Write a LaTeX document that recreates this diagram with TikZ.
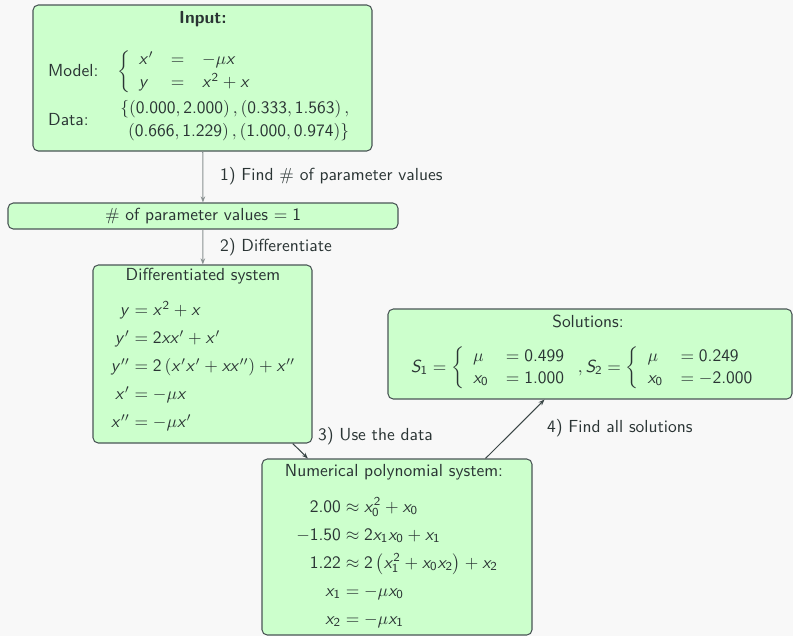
\documentclass[tikz,border=0pt]{standalone}
\usepackage{amsmath}
\renewcommand{\familydefault}{\sfdefault}
\DeclareSymbolFont{sfop}{OT1}{cmss}{m}{n}
\DeclareSymbolFont{sfit}{OT1}{cmss}{m}{sl}
\DeclareMathSymbol{x}{\mathalpha}{sfit}{`x}
\DeclareMathSymbol{y}{\mathalpha}{sfit}{`y}
\DeclareMathSymbol{S}{\mathalpha}{sfit}{`S}
\DeclareMathSymbol{0}{\mathalpha}{sfop}{`0}
\DeclareMathSymbol{1}{\mathalpha}{sfop}{`1}
\DeclareMathSymbol{2}{\mathalpha}{sfop}{`2}
\DeclareMathSymbol{3}{\mathalpha}{sfop}{`3}
\DeclareMathSymbol{4}{\mathalpha}{sfop}{`4}
\DeclareMathSymbol{5}{\mathalpha}{sfop}{`5}
\DeclareMathSymbol{6}{\mathalpha}{sfop}{`6}
\DeclareMathSymbol{7}{\mathalpha}{sfop}{`7}
\DeclareMathSymbol{8}{\mathalpha}{sfop}{`8}
\DeclareMathSymbol{9}{\mathalpha}{sfop}{`9}
\DeclareMathSymbol{.}{\mathord}{sfop}{`.}
\usetikzlibrary{arrows.meta,fit}
\definecolor{bgc}{HTML}{F8F8F8}
\definecolor{boxg}{HTML}{CCFFCC}
\definecolor{bord}{HTML}{4A5656}
\definecolor{txt}{HTML}{2A3434}
\definecolor{garr}{HTML}{8A9292}
\definecolor{darr}{HTML}{3A4646}
\begin{document}
\begin{tikzpicture}[x=0.573pt,y=-0.573pt,
  font=\fontsize{10}{12}\selectfont\sffamily, text=txt,
  box/.style={draw=bord, fill=boxg, rounded corners=3pt, line width=0.6pt, inner sep=0pt},
  tipstyle/.style={-{Stealth[length=3.5pt,width=2.6pt]}},
  garrow/.style={draw=garr, line width=0.6pt, tipstyle},
  darrow/.style={draw=darr, line width=0.6pt, tipstyle}]
\fill[bgc] (0,0) rectangle (793,636);
\useasboundingbox (0,0) rectangle (793,636);
% boxes
\node[box, fit={(33,5) (372,151)}] (input) {};
\node[box, fit={(8,203) (398,229)}] (param) {};
\node[box, fit={(93,265) (312,443)}] (diff) {};
\node[box, fit={(388,309) (792,399)}] (sol) {};
\node[box, fit={(262,459) (532,635)}] (num) {};
% input content
\node (intitle) at (203,19) {\textbf{Input:}};
\node[anchor=west] (mlbl) at (42,71) {Model:};
\node[anchor=west] (meq) at (111,72) {$\left\{\begin{array}{lcl} x' & = & -\mu x\\[1.2pt] y & = & x^2+x\end{array}\right.$};
\node[anchor=west] (dlbl) at (42,120) {Data:};
\node[anchor=east] (deq) at (364,121) {$\begin{array}{r} \{\left(0.000,2.000\right),\left(0.333,1.563\right),\\[1.5pt] \left(0.666,1.229\right),\left(1.000,0.974\right)\}\end{array}$};
% param content
\node (ptext) at (203,216) {$\#$ of parameter values $=1$};
% diff content
\node (dtitle) at (203,276) {Differentiated system};
\node (deqs) at (203,367.5) {$\begin{array}{r@{}l} y &{}= x^2+x\\[4pt] y' &{}= 2xx'+x'\\[4pt] y'' &{}= 2\left(x'x'+xx''\right)+x''\\[4pt] x' &{}= -\mu x\\[4pt] x'' &{}= -\mu x'\end{array}$};
% solutions content
\node (stitle) at (588,321) {Solutions:};
\node (seqs) at (587,368) {$S_1 = \left\{\begin{array}{ll} \mu & = 0.499\\[0.8pt] x_0 & = 1.000\end{array}\right., S_2 = \left\{\begin{array}{ll} \mu & = 0.249\\[0.8pt] x_0 & = -2.000\end{array}\right.$};
% numerical content
\node (ntitle) at (394,472) {Numerical polynomial system:};
\node (neqs) at (397,564) {$\begin{array}{r@{}l} 2.00 &{}\approx x_0^2+x_0\\[4pt] -1.50 &{}\approx 2x_1x_0+x_1\\[4pt] 1.22 &{}\approx 2\left(x_1^2+x_0x_2\right)+x_2\\[4pt] x_1 &{}= -\mu x_0\\[4pt] x_2 &{}= -\mu x_1\end{array}$};
% connectors
\draw[garrow] (input) -- (param);
\draw[garrow] (param) -- (diff);
\draw[darrow] (diff) -- (num);
\draw[darrow] (num) -- (sol);
% labels
\node[anchor=west] (l1) at (214,176) {1) Find $\#$ of parameter values};
\node[anchor=west] (l2) at (214,247) {2) Differentiate};
\node[anchor=west] (l3) at (312,436) {3) Use the data};
\node[anchor=west] (l4) at (541,428) {4) Find all solutions};
\end{tikzpicture}
\end{document}
